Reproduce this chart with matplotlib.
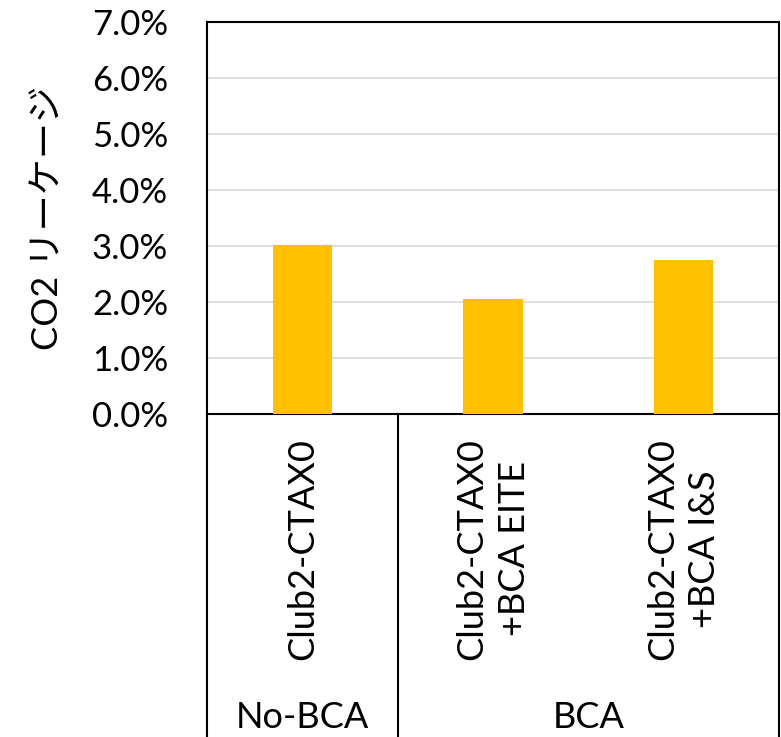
#!/usr/bin/env python3

import matplotlib
matplotlib.use("Agg")
import matplotlib.pyplot as plt
from matplotlib.ticker import FuncFormatter
import matplotlib.transforms as mtransforms

# ==============================
# DATA
# ==============================
CATEGORIES = ["Club2-CTAX0", "Club2-CTAX0\n+BCA EITE", "Club2-CTAX0\n+BCA I&S"]
LEAKAGE = [0.0302, 0.0205, 0.0275]
GROUPS = ["No-BCA", "BCA"]
GROUP_SPANS = [(0, 1), (1, 3)]          # category index ranges per group
Y_TICKS = [0.00, 0.01, 0.02, 0.03, 0.04, 0.05, 0.06, 0.07]
Y_LABEL = "CO2 リーケージ"

BAR_COLOR = "#FFC000"
FONT = ["Lato", "Noto Sans CJK JP", "DejaVu Sans"]
FS = 25

plt.rcParams["font.family"] = FONT

W, H = 781, 737
fig = plt.figure(figsize=(W / 100, H / 100), dpi=100)

# axes placement in pixels
left, right, top, bottom = 207, 779, 22, 414
ax = fig.add_axes([left / W, 1 - bottom / H, (right - left) / W, (bottom - top) / H])

x = list(range(len(CATEGORIES)))
ax.bar(x, LEAKAGE, width=0.31, color=BAR_COLOR, zorder=3)

ax.set_xlim(-0.5, len(CATEGORIES) - 0.5)
ax.set_ylim(0, 0.07)
ax.set_yticks(Y_TICKS)
ax.yaxis.set_major_formatter(FuncFormatter(lambda v, _: f"{v * 100:.1f}%"))
ax.tick_params(axis="y", length=0, labelsize=FS, pad=28)
ax.set_xticks([])
ax.grid(axis="y", color="#D9D9D9", linewidth=1.2, zorder=0)
for sp in ax.spines.values():
    sp.set_color("black")
    sp.set_linewidth(1.5)

ax.set_ylabel(Y_LABEL, fontsize=FS + 1, labelpad=20)

# ==============================
# MULTI-LEVEL CATEGORY AXIS
# ==============================
trans = mtransforms.blended_transform_factory(ax.transData, fig.transFigure)

def fy(py):
    return 1 - py / H

for i, lab in enumerate(CATEGORIES):
    ax.text(i, fy(438), lab, transform=trans, rotation=90, ha="center", va="top",
            multialignment="center", fontsize=FS + 1, linespacing=1.35)

for name, (a, b) in zip(GROUPS, GROUP_SPANS):
    ax.text((a + b - 1) / 2, fy(718), name, transform=trans, ha="center", va="center",
            fontsize=FS + 1)

# separators
for xs in [-0.5, 0.5, len(CATEGORIES) - 0.5]:
    ax.plot([xs, xs], [fy(414), 0], transform=trans, color="black",
            linewidth=1.5, clip_on=False)

plt.savefig("out.png", dpi=100)
plt.close()
